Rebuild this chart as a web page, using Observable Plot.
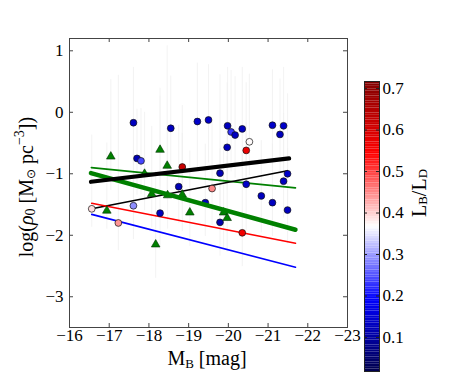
<!DOCTYPE html>
<html><head><meta charset="utf-8">
<script src="https://cdn.jsdelivr.net/npm/d3@7"></script>
<script src="https://cdn.jsdelivr.net/npm/@observablehq/plot@0.6"></script>
<style>
body{margin:0;background:#fff}
#chart{position:relative;width:463px;height:386px}
</style>
</head><body><div id="chart"></div>
<script>
// ---- data ----
const circMB =     [-16.56,-17.23,-17.61,-17.70,-17.80,-17.61,-18.28,-18.55,-18.75,-18.84,-19.22,-19.50,-19.42,-19.59,-19.79,-19.79,-19.97,-19.98,-20.07,-20.17,-20.35,-20.45,-20.53,-20.45,-20.35,-20.83,-21.11,-21.11,-21.30,-21.39,-21.39,-21.49,-21.49];
const circLogRho = [-1.57,-1.80,-0.17,-0.75,-0.79,-1.52,-1.64,-0.26,-1.21,-0.89,-0.15,-0.125,-1.47,-1.24,-0.99,-1.79,-0.57,-0.22,-0.32,-0.37,-0.27,-0.62,-0.48,-1.17,-1.96,-1.36,-0.21,-1.47,-0.36,-0.22,-1.12,-1.00,-1.59];
const circRatio =  [0.39,0.44,0.13,0.12,0.24,0.29,0.13,0.13,0.12,0.62,0.14,0.14,0.13,0.45,0.12,0.11,0.13,0.13,0.23,0.13,0.13,0.57,0.37,0.14,0.56,0.13,0.14,0.13,0.13,0.14,0.13,0.14,0.13];
const circErrLo =  [0.30,0.45,0.70,0.60,0.55,0.55,0.60,0.70,0.60,0.60,0.75,0.70,0.55,0.60,0.65,0.55,0.70,0.75,0.65,0.70,0.65,0.60,0.55,0.75,0.55,0.60,0.70,0.55,0.65,0.70,0.60,0.60,0.55];
const circErrHi =  [1.20,2.40,0.90,0.80,0.85,0.90,1.90,0.85,1.00,1.00,0.95,0.90,0.95,1.10,1.60,1.20,1.05,0.95,1.00,0.95,1.00,1.10,1.10,1.00,1.30,0.90,0.90,0.95,0.90,0.95,1.10,1.30,1.00];

const triMB =     [-17.04,-16.94,-17.89,-18.07,-18.17,-18.28,-18.46,-18.47,-18.84,-19.03,-19.88,-19.97];
const triLogRho = [-0.72,-1.60,-1.00,-1.33,-2.15,-0.61,-0.87,-1.35,-1.34,-1.63,-1.63,-1.72];
const triErrLo =  [0.55,0.30,0.60,0.55,0.55,0.60,0.55,0.55,0.60,0.55,0.60,0.55];
const triErrHi =  [1.25,1.10,1.00,1.10,1.20,1.00,1.95,1.10,1.00,1.00,1.10,1.00];

// fit lines (end points)
const fitNames = ["thickBlack","thinBlack","thinGreen","thickGreen","red","blue"];
const fitMB0 =   [-16.54,-16.56,-16.55,-16.54,-16.56,-16.56];
const fitMB1 =   [-21.53,-21.49,-21.69,-21.69,-21.69,-21.69];
const fitY0 =    [-1.13,-1.57,-0.90,-0.99,-1.48,-1.66];
const fitY1 =    [-0.75,-0.95,-1.23,-1.91,-2.13,-2.52];

const xTicks = [-16,-17,-18,-19,-20,-21,-22,-23];
const yTicks = [-3,-2,-1,0,1];
const cbarTicks = [0.1,0.2,0.3,0.4,0.5,0.6,0.7];
const cbarDomain = [0.018, 0.717];

// ---- build tables ----
const circles = circMB.map((x,i)=>({x, y:circLogRho[i], c:circRatio[i], lo:circLogRho[i]-circErrLo[i], hi:circLogRho[i]+circErrHi[i]}));
const tris = triMB.map((x,i)=>({x, y:triLogRho[i], lo:triLogRho[i]-triErrLo[i], hi:triLogRho[i]+triErrHi[i]}));
const fits = Object.fromEntries(fitNames.map((n,i)=>[n,[{x:fitMB0[i],y:fitY0[i]},{x:fitMB1[i],y:fitY1[i]}]]));

const seismic = d3.piecewise(d3.interpolateRgb, ["#00004d","#0000ff","#ffffff","#ff0000","#800000"]);
const colorScale = {type:"linear", domain:cbarDomain, interpolate: t => seismic(t)};

const W=463, H=386, mL=69, mR=116, mT=38, mB=59;
const iW = W-mL-mR, iH = H-mT-mB;
const font = "'Liberation Serif','Times New Roman',serif";
const frameCol = "#444";
const intFmt = d => d < 0 ? "\u2212" + Math.abs(d) : String(d);

const line = (n, stroke, w) => Plot.line(fits[n], {x:"x", y:"y", stroke, strokeWidth:w});

const main = Plot.plot({
  width: W, height: H,
  marginLeft: mL, marginRight: mR, marginTop: mT, marginBottom: mB,
  style: {fontFamily: font, fontSize: "17px", background: "#fff", color: "#000"},
  x: {domain: [-16,-23]},
  y: {domain: [-3.5, 1.2]},
  color: colorScale,
  marks: [
    Plot.ruleX(circles, {x:"x", y1:"lo", y2:"hi", stroke:"#f0f0f0", strokeWidth:0.8}),
    Plot.ruleX(tris, {x:"x", y1:"lo", y2:"hi", stroke:"#f0f0f0", strokeWidth:0.8}),
    line("thinGreen", "#008000", 1.6),
    line("thinBlack", "#000", 1.6),
    line("red", "#ff0000", 1.6),
    line("blue", "#0000ff", 1.6),
    Plot.dot(circles, {x:"x", y:"y", fill:"c", r:3.4, stroke:"#111", strokeWidth:0.7}),
    Plot.dot(tris, {x:"x", y:"y", symbol:"triangle", r:3.2, fill:"#008000", stroke:"#003000", strokeWidth:0.6}),
    line("thickGreen", "#008000", 4.5),
    line("thickBlack", "#000", 4.2),
    Plot.frame({stroke: frameCol}),
    Plot.tickX(xTicks, {x: d=>d, insetTop: iH-4, stroke: frameCol}),
    Plot.tickX(xTicks, {x: d=>d, insetBottom: iH-4, stroke: frameCol}),
    Plot.tickY(yTicks, {y: d=>d, insetRight: iW-4, stroke: frameCol}),
    Plot.tickY(yTicks, {y: d=>d, insetLeft: iW-4, stroke: frameCol}),
    Plot.axisX(xTicks, {tickSize: 0, tickPadding: 1, label: null, tickFormat: intFmt}),
    Plot.axisY(yTicks, {tickSize: 0, tickPadding: 6, label: null, tickFormat: intFmt})
  ]
});

// ---- colorbar ----
const nb = 120;
const bands = d3.range(nb).map(i => {
  const a = cbarDomain[0] + (cbarDomain[1]-cbarDomain[0])*i/nb;
  const b = cbarDomain[0] + (cbarDomain[1]-cbarDomain[0])*(i+1)/nb;
  return {y1:a, y2:b, c:(a+b)/2};
});
const cbW = 15, cbH = 290;
const cbar = Plot.plot({
  width: 60, height: cbH+10,
  marginLeft: 0, marginRight: 60-cbW, marginTop: 5, marginBottom: 5,
  style: {fontFamily: font, fontSize: "17px", background: "transparent", color: "#000", overflow: "visible"},
  x: {axis: null},
  y: {domain: cbarDomain},
  color: colorScale,
  marks: [
    Plot.rect(bands, {y1:"y1", y2:"y2", fill:"c"}),
    Plot.frame({stroke:"#222"}),
    Plot.tickY(cbarTicks, {y:d=>d, insetRight: cbW-3, stroke:"#222"}),
    Plot.tickY(cbarTicks, {y:d=>d, insetLeft: cbW-3, stroke:"#222"}),
    Plot.axisY(cbarTicks, {anchor:"right", tickSize: 0, tickPadding: 3, label: null})
  ]
});
d3.select(cbar).attr("x", 364).attr("y", 38-5);
main.appendChild(cbar);

const svg = d3.select(main);
// y axis label
const yl = svg.append("text")
  .attr("transform", "translate(28,187) rotate(-90)")
  .attr("text-anchor", "middle").attr("dominant-baseline", "middle")
  .attr("font-family", font).attr("font-size", 20).attr("fill", "#000");
yl.append("tspan").text("log(");
yl.append("tspan").attr("font-style","italic").text("ρ");
yl.append("tspan").attr("font-size", 14).attr("dy", 4).text("0");
yl.append("tspan").attr("dy", -4).text(" [M");
yl.append("tspan").attr("font-size", 12).attr("dy", 4).text("⊙");
yl.append("tspan").attr("dy", -4).text(" pc");
yl.append("tspan").attr("font-size", 14).attr("dy", -7).text("−3");
yl.append("tspan").attr("dy", 7).text("])");

// x axis label
const xl = svg.append("text")
  .attr("x", 207).attr("y", 365)
  .attr("text-anchor", "middle")
  .attr("font-family", font).attr("font-size", 20).attr("fill", "#000");
xl.append("tspan").text("M");
xl.append("tspan").attr("font-size", 13).attr("dy", 3).text("B");
xl.append("tspan").attr("dy", -3).text(" [mag]");

// colorbar label
const cl = svg.append("text")
  .attr("transform", "translate(421,193) rotate(-90)")
  .attr("text-anchor", "middle").attr("dominant-baseline", "middle")
  .attr("font-family", font).attr("font-size", 20).attr("fill", "#000");
cl.append("tspan").text("L");
cl.append("tspan").attr("font-size", 13).attr("dy", 3).text("B");
cl.append("tspan").attr("dy", -3).text("/L");
cl.append("tspan").attr("font-size", 13).attr("dy", 3).text("D");

document.getElementById("chart").appendChild(main);
</script>
</body></html>
